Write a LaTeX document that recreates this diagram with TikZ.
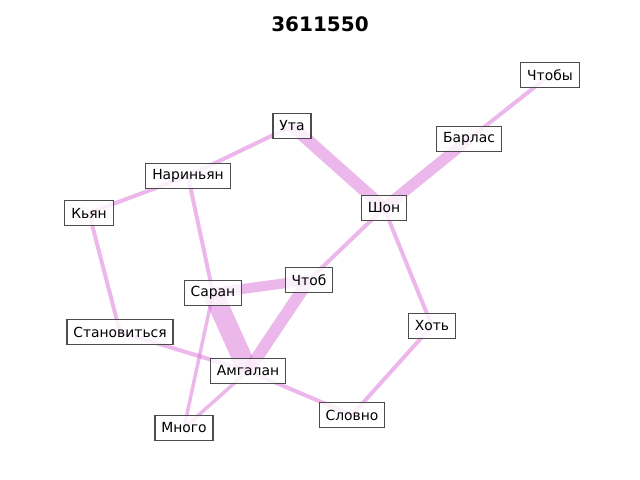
\documentclass[tikz,border=0pt]{standalone}
\usepackage{fontspec}
\setmainfont{DejaVu Sans}
\usetikzlibrary{backgrounds}
\definecolor{orch}{RGB}{218,112,214}
\tikzset{
  lbl/.style={draw=black!70, line width=0.85pt, fill=white, fill opacity=0.8, draw opacity=1, text opacity=1,
    inner xsep=4.6pt, inner ysep=0pt, minimum height=18pt, font=\fontsize{10}{12}\selectfont},
  lnk/.style={draw=orch, draw opacity=0.5, line width=#1*0.72pt},
  lnk/.default=4
}
\begin{document}
\begin{tikzpicture}[x=0.72pt, y=-0.72pt]
\useasboundingbox (0,0) rectangle (640,480);
\node[font=\fontsize{14.4}{17}\selectfont\bfseries] (title) at (320,24) {3611550};
\node[lbl] (chtoby) at (550,75) {Чтобы};
\node[lbl] (uta) at (292,126) {Ута};
\node[lbl] (barlas) at (469,139) {Барлас};
\node[lbl] (narin) at (188,176) {Нариньян};
\node[lbl] (shon) at (384,208) {Шон};
\node[lbl] (kyan) at (89,213) {Кьян};
\node[lbl] (chtob) at (309,280) {Чтоб};
\node[lbl] (saran) at (213,293) {Саран};
\node[lbl] (khot) at (432,326) {Хоть};
\node[lbl] (stan) at (120,332) {Становиться};
\node[lbl] (amg) at (248,371) {Амгалан};
\node[lbl] (slovno) at (352,415) {Словно};
\node[lbl] (mnogo) at (184,428) {Много};
\begin{scope}[on background layer]
\draw[lnk] (chtoby.center) -- (barlas.center);
\draw[lnk=11] (barlas.center) -- (shon.center);
\draw[lnk=12] (uta.center) -- (shon.center);
\draw[lnk] (uta.center) -- (narin.center);
\draw[lnk] (narin.center) -- (kyan.center);
\draw[lnk] (narin.center) -- (saran.center);
\draw[lnk] (kyan.center) -- (stan.center);
\draw[lnk] (stan.center) -- (amg.center);
\draw[lnk] (amg.center) -- (slovno.center);
\draw[lnk=10] (saran.center) -- (chtob.center);
\draw[lnk=20] (saran.center) -- (amg.center);
\draw[lnk=12] (chtob.center) -- (amg.center);
\draw[lnk] (chtob.center) -- (shon.center);
\draw[lnk] (shon.center) -- (khot.center);
\draw[lnk] (khot.center) -- (slovno.center);
\draw[lnk=3.5] (saran.center) -- (mnogo.center);
\draw[lnk=3.5] (amg.center) -- (mnogo.center);
\end{scope}
\end{tikzpicture}
\end{document}
